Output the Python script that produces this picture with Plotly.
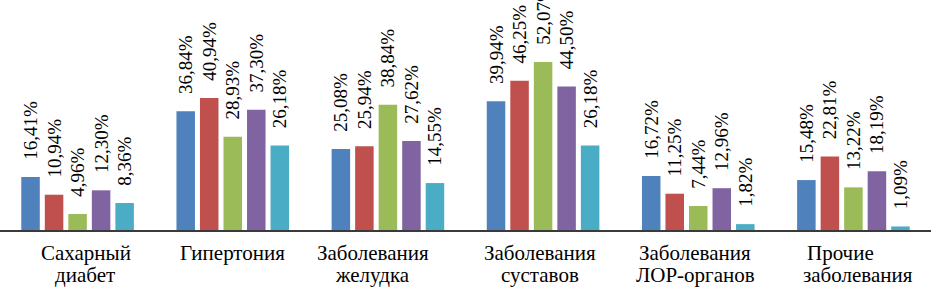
import plotly.graph_objects as go

categories = ["Сахарный диабет", "Гипертония", "Заболевания желудка",
              "Заболевания суставов", "Заболевания ЛОР-органов", "Прочие заболевания"]
label_line1 = ["Сахарный", "Гипертония", "Заболевания", "Заболевания", "Заболевания", "Прочие"]
label_line2 = ["диабет", "", "желудка", "суставов", "ЛОР-органов", "заболевания"]
series_names = ["Серия 1", "Серия 2", "Серия 3", "Серия 4", "Серия 5"]
s1 = [16.41, 36.84, 25.08, 39.94, 16.72, 15.48]
s2 = [10.94, 40.94, 25.94, 46.25, 11.25, 22.81]
s3 = [4.96, 28.93, 38.84, 52.07, 7.44, 13.22]
s4 = [12.30, 37.30, 27.62, 44.50, 12.96, 18.19]
s5 = [8.36, 26.18, 14.55, 26.18, 1.82, 1.09]
series = [s1, s2, s3, s4, s5]

# styling
colors = ["#4F81BD", "#C0504D", "#9BBB59", "#8064A2", "#4BACC6"]
label_dx1 = [8, 0, -15, -3, -3, -13]
label_dx2 = [7, 0, -15, -3, -3, 5]
FONT = "Times New Roman"

def fmt(v):
    return "\u00a0\u00a0\u00a0" + f"{v:.2f}%".replace(".", ",")

fig = go.Figure()
for name, vals, col in zip(series_names, series, colors):
    tf = dict(family=FONT, size=19, color="black")
    fig.add_trace(go.Bar(
        x=categories, y=vals, name=name,
        marker=dict(color=col, line=dict(width=0)),
        text=[fmt(v) for v in vals],
        textposition="outside", textangle=-90,
        textfont=tf, outsidetextfont=tf,
        constraintext="none", cliponaxis=False,
    ))

for cat, l1, l2, d1, d2 in zip(categories, label_line1, label_line2, label_dx1, label_dx2):
    for txt, shift, dx in ((l1, -23, d1), (l2, -45, d2)):
        if txt:
            fig.add_annotation(x=cat, xref="x", y=0, yref="paper", text=txt,
                               showarrow=False, yanchor="middle", yshift=shift, xshift=dx,
                               font=dict(family=FONT, size=21, color="black"))

fig.update_layout(
    width=931, height=287,
    margin=dict(l=0, r=0, t=0, b=57, autoexpand=False),
    barmode="group", bargap=0.242, bargroupgap=0.213,
    showlegend=False,
    font=dict(family=FONT, size=19, color="black"),
    plot_bgcolor="white", paper_bgcolor="white",
    xaxis=dict(showline=True, linecolor="#3a3a3a", linewidth=1.8, ticks="",
               automargin=False, showgrid=False, showticklabels=False),
    yaxis=dict(visible=False, range=[0, 71.3], showgrid=False, zeroline=False,
               automargin=False),
)

fig.write_html("out.html", config={"displayModeBar": False},
               post_script="document.body.style.margin='0';")
